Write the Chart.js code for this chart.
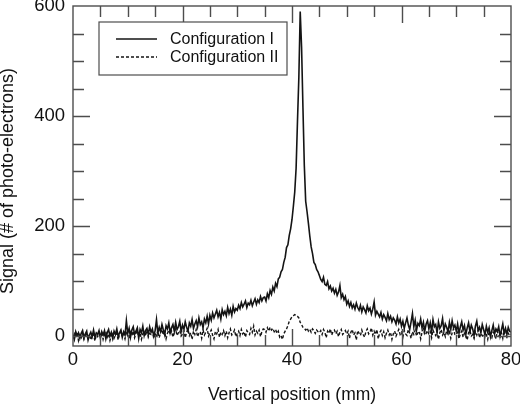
<!DOCTYPE html>
<html>
<head>
<meta charset="utf-8">
<script src="https://cdn.jsdelivr.net/npm/chart.js@4.4.0/dist/chart.umd.min.js"></script>
<style>
  html, body { margin: 0; padding: 0; background: #fff; }
  #chart { display: block; }
</style>
</head>
<body>
<canvas id="chart" width="520" height="406"></canvas>
<script>
// scan positions are every 0.25 mm starting at 0
const stepMm = 0.25;
const seriesLabels = ['Configuration I', 'Configuration II'];

// Configuration I, one row per 5 mm
const config1Signal = [
  3, -6, 8, 1, 6, -4, 5, 10, -3, 4, 9, -7, 2, 7, -1, 11, -2, 6, 3, 10,
  -3, 8, 2, 10, -5, 6, 12, 0, 7, -4, 9, 3, 13, -1, 6, 11, -2, 8, 2, 28,
  5, 14, -2, 11, 17, 3, 9, 15, -4, 12, 6, 18, 1, 10, 14, 3, 17, 7, 13, 0,
  10, 30, 5, 16, 8, 21, 11, 2, 19, 13, 24, 6, 15, 21, 9, 25, 12, 17, 27, 8,
  20, 12, 26, 16, 9, 24, 18, 30, 14, 22, 28, 17, 33, 21, 26, 15, 31, 24, 36, 22,
  38, 29, 42, 33, 40, 47, 35, 43, 31, 48, 39, 45, 37, 52, 41, 49, 38, 54, 44, 50,
  47, 56, 50, 61, 53, 58, 64, 52, 60, 57, 65, 55, 62, 68, 58, 66, 61, 72, 64, 70,
  71, 64, 77, 70, 83, 76, 89, 82, 96, 90, 104, 107, 117, 121, 134, 143, 161, 166, 183, 195,
  212, 236, 262, 305, 390, 470, 590, 525, 415, 310, 245, 226, 205, 182, 162, 150, 134, 130, 121, 117,
  110, 103, 99, 107, 94, 92, 99, 86, 91, 82, 87, 78, 85, 74, 80, 92, 70, 76, 66, 72,
  58, 64, 54, 61, 51, 57, 49, 60, 52, 47, 56, 44, 53, 48, 42, 55, 46, 51, 40, 49,
  62, 38, 45, 40, 35, 43, 31, 39, 34, 28, 41, 30, 36, 26, 33, 29, 22, 35, 24, 31,
  18, 27, 14, 24, 33, 20, 12, 26, 41, 17, 29, 11, 23, 19, 31, 15, 25, 9, 22, 28,
  13, 24, 8, 30, 17, 21, 6, 26, 14, 19, 32, 10, 22, 16, 7, 25, 12, 28, 15, 20,
  9, 22, 5, 17, 26, 11, 19, 3, 15, 24, 8, 20, 13, 1, 18, 27, 10, 16, 6, 21,
  12, 2, 18, 7, 15, -1, 10, 20, 4, 13, 8, 17, 0, 11, 22, 5, 14, 3, 16, 9,
  7
];

// Configuration II
const config2Signal = [
  -5, 4, -2, 7, -8, 2, -3, 5, -6, 1, 6, -4, 3, -7, 0, 4, -9, 2, -1, 5,
  -3, 6, -6, 3, 8, -2, 4, -8, 1, 7, -4, 2, 5, -7, 3, 9, -1, 4, -5, 6,
  2, -5, 7, 1, 9, -3, 5, 10, -1, 6, -6, 4, 8, 0, 11, -2, 5, 3, 9, -4,
  6, 1, 10, -3, 7, 12, 2, 8, -5, 5, 11, 3, 9, -2, 7, 13, 1, 6, 10, 0,
  4, 10, -3, 7, 13, 1, 6, -6, 9, 3, 12, -1, 5, 8, -4, 11, 2, 7, 14, 0,
  6, 11, 2, -5, 8, 4, 12, -2, 7, 3, 10, 1, 9, -3, 6, 13, 2, 5, 11, -1,
  5, 9, 1, 12, 4, 8, -2, 10, 6, 3, 14, 7, 18, 2, 9, 5, 11, -1, 8, 13,
  12, 7, 15, 9, 16, 11, 14, 8, 12, 5, 9, -2, 1, -6, 4, 9, 13, 19, 27, 31,
  35, 37, 39, 38, 36, 33, 25, 21, 16, 14, 11, 15, 9, 12, 7, 13, 10, 5, 11, 8,
  6, 10, 3, 12, 7, -3, 9, 5, 13, 2, 8, 11, 4, 9, -1, 7, 12, 3, 6, 10,
  4, 9, -4, 7, 12, 2, 6, -7, 10, 5, 1, 11, 3, -2, 8, 13, 4, 7, 15, 2,
  9, 3, 12, -5, 6, 10, 1, 8, -3, 5, 11, 2, 7, -6, 4, 9, 0, 6, 12, 3,
  7, -2, 10, 4, 1, 12, 5, -4, 8, 3, 11, 0, 6, 9, -5, 7, 13, 2, 5, 10,
  3, 8, -3, 11, 5, 1, 9, -6, 6, 12, 2, 7, -1, 10, 4, 8, -4, 6, 13, 3,
  2, 7, -5, 4, 9, -2, 5, 1, -7, 6, 10, 0, 3, -4, 8, 2, 11, -3, 5, 1,
  -2, 6, 3, -6, 8, 1, -3, 7, 4, -5, 9, 2, -1, 6, -4, 10, 3, -2, 5, 1,
  4
];

const xMajorTicks = [0, 20, 40, 60, 80];
const yMajorTicks = [0, 200, 400, 600];

const FONT = "'Liberation Sans', Arial, Helvetica, sans-serif";
const INK = '#111';
const FRAME = '#4d4d4d';

function toPoints(values) {
  return values.map((v, i) => ({ x: i * stepMm, y: v }));
}

// box round the plot, ticks pointing inwards on all four sides
const frameTicks = {
  id: 'frameTicks',
  afterDatasetsDraw(chart) {
    const { ctx, chartArea: a, scales: { x, y } } = chart;
    ctx.save();
    ctx.strokeStyle = FRAME;
    ctx.lineWidth = 1.4;
    ctx.strokeRect(a.left, a.top, a.right - a.left, a.bottom - a.top);
    ctx.beginPath();
    for (let v = 5; v < 80; v += 5) {
      const px = Math.round(x.getPixelForValue(v)) + 0.5;
      const len = v % 20 === 0 ? 17 : 11;
      ctx.moveTo(px, a.bottom); ctx.lineTo(px, a.bottom - len);
      ctx.moveTo(px, a.top); ctx.lineTo(px, a.top + len);
    }
    for (let v = 0; v < 600; v += 50) {
      const py = Math.round(y.getPixelForValue(v)) + 0.5;
      const len = v % 200 === 0 ? 17 : 11;
      ctx.moveTo(a.left, py); ctx.lineTo(a.left + len, py);
      ctx.moveTo(a.right, py); ctx.lineTo(a.right - len, py);
    }
    ctx.stroke();
    ctx.restore();
  }
};

// legend drawn inside the plot, top left
const boxLegend = {
  id: 'boxLegend',
  afterDraw(chart) {
    const { ctx, chartArea: a } = chart;
    const bx = a.left + 26, by = a.top + 16;
    ctx.save();
    ctx.fillStyle = '#fff';
    ctx.fillRect(bx, by, 188, 53);
    ctx.strokeStyle = FRAME;
    ctx.lineWidth = 1.2;
    ctx.strokeRect(bx, by, 188, 53);
    ctx.font = '16px ' + FONT;
    ctx.textBaseline = 'middle';
    chart.data.datasets.forEach((ds, i) => {
      const ly = by + 17 + i * 18;
      ctx.setLineDash(ds.borderDash || []);
      ctx.strokeStyle = ds.borderColor;
      ctx.lineWidth = ds.borderWidth;
      ctx.beginPath();
      ctx.moveTo(bx + 17, ly);
      ctx.lineTo(bx + 58, ly);
      ctx.stroke();
      ctx.setLineDash([]);
      ctx.fillStyle = INK;
      ctx.fillText(ds.label, bx + 71, ly + 1);
    });
    ctx.restore();
  }
};

new Chart(document.getElementById('chart'), {
  type: 'line',
  data: {
    datasets: [
      {
        label: seriesLabels[0],
        data: toPoints(config1Signal),
        borderColor: '#141414',
        borderWidth: 1.6,
        pointRadius: 0,
        tension: 0,
        fill: false
      },
      {
        label: seriesLabels[1],
        data: toPoints(config2Signal),
        borderColor: '#141414',
        borderWidth: 1.4,
        borderDash: [3, 2],
        pointRadius: 0,
        tension: 0,
        fill: false
      }
    ]
  },
  options: {
    responsive: false,
    animation: false,
    devicePixelRatio: 1,
    layout: { padding: { left: 0, right: 9, top: 6, bottom: 0 } },
    plugins: {
      legend: { display: false },
      tooltip: { enabled: false }
    },
    scales: {
      x: {
        type: 'linear',
        min: 0,
        max: 80,
        afterBuildTicks(s) { s.ticks = xMajorTicks.map(v => ({ value: v })); },
        afterFit(s) { s.height = 60; s.paddingLeft = 0; s.paddingRight = 0; },
        grid: { display: false, drawTicks: false },
        border: { display: false },
        ticks: { padding: 3, color: INK, maxRotation: 0, autoSkip: false, font: { family: FONT, size: 18.5 } },
        title: {
          display: true,
          text: 'Vertical position (mm)',
          color: INK,
          font: { family: FONT, size: 17.5 },
          padding: { top: 0, bottom: 0 }
        }
      },
      y: {
        type: 'linear',
        min: -18,
        max: 600,
        afterBuildTicks(s) { s.ticks = yMajorTicks.map(v => ({ value: v })); },
        afterFit(s) { s.width = 73; s.paddingTop = 0; s.paddingBottom = 0; },
        grid: { display: false, drawTicks: false },
        border: { display: false },
        ticks: { padding: 8, color: INK, font: { family: FONT, size: 18.5 } },
        title: {
          display: true,
          text: 'Signal (# of photo-electrons)  ',
          color: INK,
          font: { family: FONT, size: 18 },
          padding: { top: -2.5, bottom: 0 }
        }
      }
    }
  },
  plugins: [frameTicks, boxLegend]
});
</script>
</body>
</html>
